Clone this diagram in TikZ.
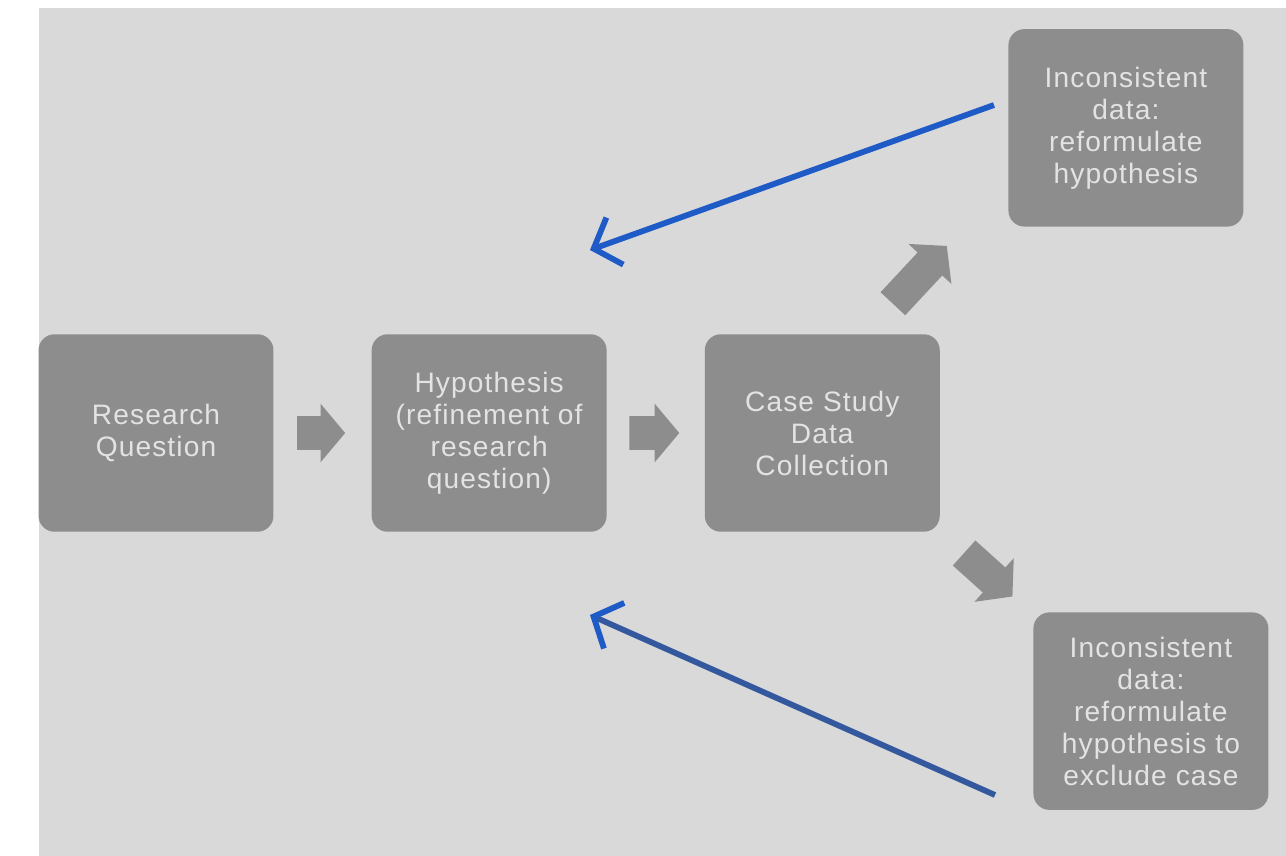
\documentclass[tikz,border=0pt]{standalone}
\usepackage{fontspec}
\setmainfont{Liberation Sans}
\newfontfamily\boxfont[LetterSpace=4]{Liberation Sans}
\usetikzlibrary{arrows.meta,positioning,shapes.arrows}
\definecolor{slidebg}{HTML}{D9D9D9}
\definecolor{boxgray}{HTML}{8D8D8D}
\definecolor{boxtext}{HTML}{E3E3E3}
\definecolor{backblue}{HTML}{1E5BC6}
\definecolor{backdull}{HTML}{34589E}

\begin{document}
\begin{tikzpicture}[x=0.02cm, y=-0.02cm, node distance=1.95cm and 1.95cm, every node/.style={font=\boxfont\fontsize{16}{18.2}\selectfont}]
\tikzset{box/.style={fill=boxgray, rounded corners=0.32cm, align=center, text=boxtext, minimum width=4.7cm, minimum height=3.95cm, inner sep=2pt}}
\tikzset{blockarrow/.style={single arrow, fill=boxgray, inner xsep=0pt, inner ysep=0.33cm, single arrow tip angle=100, minimum width=1.04cm}}
\tikzset{feedback/.style={-{Straight Barb[length=0.45cm, width=1.0cm]}, line width=3.3pt}}
% slide background
\useasboundingbox (0,0) rectangle (1286,856);
\fill[white] (0,0) rectangle (1286,856);
\fill[slidebg] (39,8) rectangle (1286,856);
% main row
\node[box] (rq) at (156,433) {Research\\Question};
\node[box, right=of rq] (hyp) {Hypothesis\\(refinement of\\research\\question)};
\node[box, right=of hyp] (case) {Case Study\\Data\\Collection};
\node[box, above right=2.14cm and 1.36cm of case] (incon) {Inconsistent\\data:\\reformulate\\hypothesis};
\node[box, below right=1.6cm and 1.86cm of case] (exclude) {Inconsistent\\data:\\reformulate\\hypothesis to\\exclude case};
% block arrows
\path (rq) -- node[blockarrow, minimum height=0.96cm, xshift=-0.17cm] (a1) {} (hyp);
\path (hyp) -- node[blockarrow, minimum height=1.0cm, xshift=-0.17cm] (a2) {} (case);
\node[blockarrow, rotate=47, minimum height=1.58cm] (a3) at (915,280) {};
\node[blockarrow, rotate=-42, minimum height=1.3cm] (a4) at (983,570) {};
% feedback arrows
\coordinate (toptail) at (994,105);
\coordinate (tophead) at (590,250);
\coordinate (bottail) at (995,795);
\coordinate (bothead) at (590,615);
\draw[feedback, backblue] (toptail) -- (tophead);
\draw[feedback, backdull, -{Straight Barb[length=0.45cm, width=1.0cm, color=backblue]}] (bottail) -- (bothead);
\end{tikzpicture}
\end{document}
